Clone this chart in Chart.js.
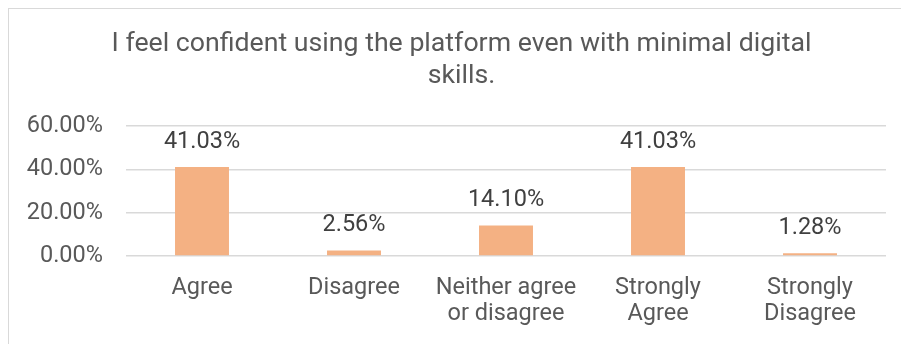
<!DOCTYPE html>
<html>
<head>
<meta charset="utf-8">
<script src="https://cdn.jsdelivr.net/npm/chart.js@4"></script>
<style>
  html, body { margin: 0; padding: 0; background: #fff; overflow: hidden; }
  body { width: 901px; height: 344px; position: relative; }
  .frame {
    position: absolute; left: 8px; top: 8px; width: 920px; height: 360px;
    border: 1px solid #d9d9d9;
  }
  #chart { position: absolute; left: 0; top: 0; }
</style>
</head>
<body>
<div class="frame"></div>
<canvas id="chart" width="901" height="344"></canvas>
<script>
// survey answers and their share of respondents (%)
const answers = ["Agree", "Disagree", ["Neither agree", "or disagree"], ["Strongly", "Agree"], ["Strongly", "Disagree"]];
const shares = [41.03, 2.56, 14.10, 41.03, 1.28];
const yTicks = [0, 20, 40, 60];

const textGrey = "#595959";

// writes the value above each bar
const valueLabels = {
    id: "valueLabels",
    afterDatasetsDraw(chart) {
        const ctx = chart.ctx;
        const meta = chart.getDatasetMeta(0);
        ctx.save();
        ctx.font = "23.5px Roboto";
        ctx.fillStyle = "#404040";
        ctx.textAlign = "center";
        ctx.textBaseline = "middle";
        meta.data.forEach((bar, i) => {
            ctx.fillText(shares[i].toFixed(2) + "%", bar.x, bar.y - 25);
        });
        ctx.restore();
    }
};

// the left padding only serves to centre the title; let the y labels run into it
const widenYLabels = {
    id: "widenYLabels",
    afterLayout(chart) {
        chart.scales.y.left = 0;
    }
};

new Chart(document.getElementById("chart").getContext("2d"), {
    type: "bar",
    data: {
        labels: answers,
        datasets: [{
            data: shares,
            backgroundColor: "#F4B183",
            categoryPercentage: 1,
            barPercentage: 0.355
        }]
    },
    options: {
        responsive: false,
        animation: false,
        devicePixelRatio: 1,
        layout: { padding: { left: 37, right: 15, top: 0, bottom: 0 } },
        plugins: {
            legend: { display: false },
            tooltip: { enabled: false },
            title: {
                display: true,
                text: ["I feel confident using the platform even with minimal digital", "skills."],
                color: textGrey,
                font: { family: "Roboto", size: 26.7, weight: "normal", lineHeight: 1.23 },
                padding: { top: 27.5, bottom: 32.8 }
            }
        },
        scales: {
            y: {
                min: 0,
                max: 60,
                afterBuildTicks(scale) {
                    scale.ticks = yTicks.map(v => ({ value: v }));
                },
                afterFit(scale) { scale.width = 89; },
                grid: { color: "#d9d9d9", lineWidth: 1.5, drawTicks: false },
                border: { display: false },
                ticks: {
                    padding: 23,
                    color: textGrey,
                    font: { family: "Roboto", size: 23.5 },
                    callback: v => v.toFixed(2) + "%"
                }
            },
            x: {
                afterFit(scale) { scale.height = 88; },
                grid: { display: false, drawTicks: false },
                border: { display: false },
                ticks: {
                    padding: 18.5,
                    maxRotation: 0,
                    autoSkip: false,
                    color: textGrey,
                    font: { family: "Roboto", size: 23.5, lineHeight: 1.13 }
                }
            }
        }
    },
    plugins: [valueLabels, widenYLabels]
});
</script>
</body>
</html>
